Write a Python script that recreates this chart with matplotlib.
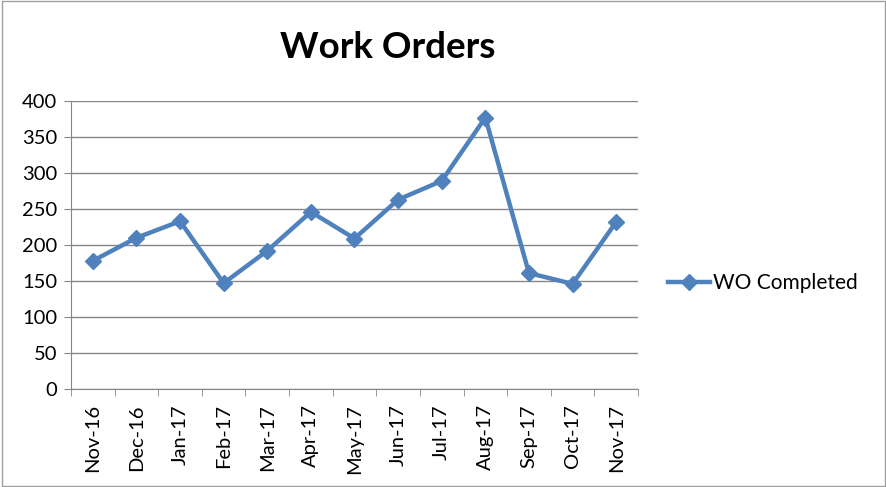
import matplotlib
matplotlib.use("Agg")
import matplotlib.pyplot as plt
from matplotlib.patches import Rectangle
import numpy as np

plt.rcParams['font.family'] = ['Lato', 'DejaVu Sans']

months = ['Nov-16', 'Dec-16', 'Jan-17', 'Feb-17', 'Mar-17', 'Apr-17', 'May-17',
          'Jun-17', 'Jul-17', 'Aug-17', 'Sep-17', 'Oct-17', 'Nov-17']
wo_completed = [178, 210, 233, 147, 192, 246, 209, 263, 289, 377, 161, 146, 232]

blue = '#4F81BD'
grey = '#868686'

fig = plt.figure(figsize=(8.87, 4.87), dpi=100)
ax = fig.add_axes([71/887, 1 - 389/487, 567/887, 288/487])

x = np.arange(len(months))
ax.plot(x, wo_completed, color=blue, lw=3.2, marker='D', ms=8,
        label='WO Completed', solid_joinstyle='miter')

ax.set_xlim(-0.5, len(months) - 0.5)
ax.set_ylim(0, 400)
ax.set_yticks(range(0, 401, 50))
ax.yaxis.grid(True, color=grey, lw=1)
ax.set_axisbelow(True)

ax.set_xticks(x)
ax.set_xticklabels(months, rotation=90)
ax.set_xticks(np.arange(-0.5, len(months)), minor=True)
ax.tick_params(axis='x', which='major', length=0, pad=11, labelsize=14.5)
ax.tick_params(axis='x', which='minor', length=5, color=grey)
ax.tick_params(axis='y', length=5, color=grey, labelsize=14.5, pad=5)

for s in ['top', 'right']:
    ax.spines[s].set_visible(False)
for s in ['left', 'bottom']:
    ax.spines[s].set_color(grey)

fig.text(388/887, 1 - 47/487, 'Work Orders', ha='center', va='center',
         fontsize=26.5, fontweight='bold')

leg = fig.legend(loc='center left', bbox_to_anchor=(668/887, 1 - 283/487),
                 frameon=False, fontsize=15, handlelength=2.0, handletextpad=0.15,
                 borderaxespad=0, borderpad=0)

fig.patches.append(Rectangle((0.002, 0.003), 0.996, 0.994, transform=fig.transFigure,
                             fill=False, edgecolor='#A0A0A0', lw=1))

fig.savefig('out.png', dpi=100)
